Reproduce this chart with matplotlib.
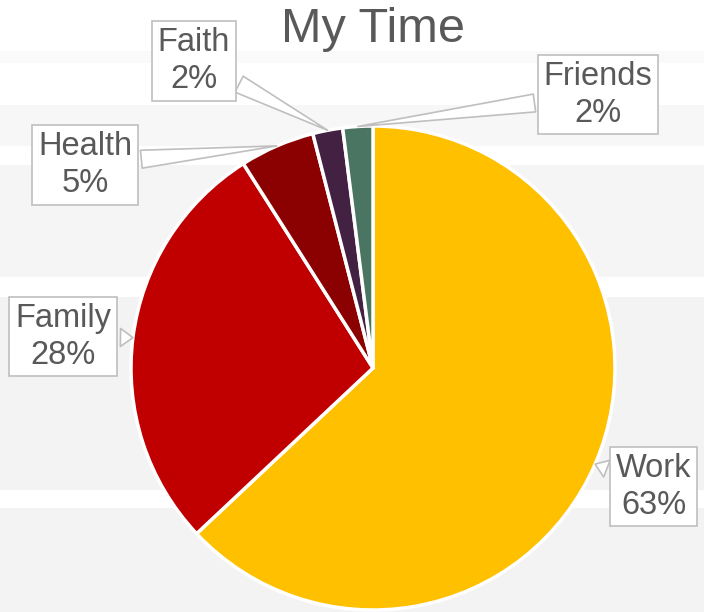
import numpy as np
import matplotlib.pyplot as plt
from matplotlib.patches import Rectangle

# Data
labels = ['Work', 'Family', 'Health', 'Faith', 'Friends']
values = [63, 28, 5, 2, 2]
colors = ['#FFC000', '#C00000', '#8B0000', '#432142', '#4A7563']

# Label box centres (data units, pie radius = 1)
label_pos = {
    'Work': (1.16, -0.49),
    'Family': (-1.28, 0.13),
    'Health': (-1.19, 0.84),
    'Faith': (-0.74, 1.27),
    'Friends': (0.93, 1.13),
}

text_color = '#595959'
border_color = '#BFBFBF'

plt.rcParams['font.family'] = ['Liberation Sans', 'DejaVu Sans']

fig = plt.figure(figsize=(7.04, 6.12), dpi=100)

# Background bands in pixel coordinates
bg = fig.add_axes([0, 0, 1, 1], zorder=0)
bg.set_xlim(0, 704)
bg.set_ylim(612, 0)
bg.axis('off')
bands = [(51, 63, '#FAFAFA'), (105, 146, '#F7F7F7'), (165, 277, '#F5F5F5'),
         (297, 490, '#F3F3F3'), (508, 612, '#F3F3F3')]
for y0, y1, c in bands:
    bg.add_patch(Rectangle((0, y0), 704, y1 - y0, facecolor=c, edgecolor='none'))

# Pie axes: centre at pixel (373, 368), radius 242 px
ax = fig.add_axes([0, 0, 1, 1], zorder=1)
ax.patch.set_alpha(0)
r_px = 242.0
ax.axis('off')

wedges, _ = ax.pie(values, colors=colors, startangle=90, counterclock=False,
                   radius=1.0, center=(0, 0),
                   wedgeprops=dict(edgecolor='white', linewidth=2.5))
ax.set_xlim(-373 / r_px, (704 - 373) / r_px)
ax.set_ylim((368 - 612) / r_px, 368 / r_px)
ax.set_aspect('auto')

total = sum(values)
for w, lab, v in zip(wedges, labels, values):
    ang = np.deg2rad((w.theta1 + w.theta2) / 2)
    tip = (np.cos(ang) * 1.0, np.sin(ang) * 1.0)
    ax.annotate(f'{lab}\n{round(v / total * 100)}%', xy=tip, xytext=label_pos[lab],
                ha='center', va='center', fontsize=23.5, color=text_color,
                linespacing=1.25,
                bbox=dict(boxstyle='square,pad=0.18', fc='white', ec=border_color, lw=1.2),
                arrowprops=dict(arrowstyle='wedge,tail_width=0.55', fc='white',
                                ec=border_color, lw=1.2, shrinkB=0),
                zorder=5)

fig.text(373 / 704, 1 - 29 / 612, 'My Time', ha='center', va='center',
         fontsize=35, color=text_color)

fig.savefig('out.png', dpi=100)
